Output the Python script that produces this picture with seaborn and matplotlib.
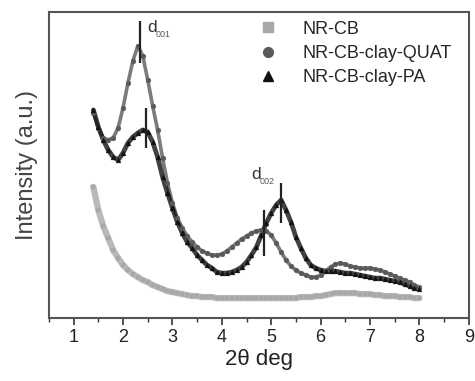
import numpy as np
import pandas as pd
import matplotlib
matplotlib.use("Agg")
import matplotlib.pyplot as plt
import seaborn as sns
from matplotlib.ticker import MultipleLocator
from matplotlib.lines import Line2D

# ---------------- data (arbitrary intensity units) ----------------
two_theta = [round(1.4 + 0.1 * i, 1) for i in range(67)]  # 1.4 ... 8.0

nr_cb = [131, 108, 92, 80, 68, 60, 53, 48, 44, 41,
         38, 36, 33, 31, 29, 27, 26, 25, 24, 23,
         22, 22, 21, 21, 21, 20, 20, 20, 20, 20,
         20, 20, 20, 20, 20, 20, 20, 20, 20, 20,
         20, 20, 21, 21, 21, 22, 22, 23, 24, 25,
         25, 25, 25, 25, 24, 24, 24, 23, 23, 22,
         22, 22, 21, 21, 21, 20, 20]

nr_cb_clay_quat = [205, 190, 180, 178, 180, 190, 210, 235, 257, 272,
                   262, 238, 212, 188, 160, 135, 115, 100, 90, 82,
                   76, 71, 67, 65, 63, 63, 64, 67, 71, 75,
                   79, 82, 85, 87, 88, 87, 83, 75, 66, 58,
                   52, 48, 45, 43, 41, 41, 43, 47, 51, 54,
                   55, 54, 52, 51, 50, 50, 50, 49, 48, 46,
                   44, 42, 40, 38, 36, 33, 31]

nr_cb_clay_pa = [208, 191, 178, 168, 161, 158, 165, 175, 181, 185,
                 188, 186, 176, 161, 141, 125, 110, 96, 85, 76,
                 70, 63, 58, 53, 50, 46, 45, 45, 46, 48,
                 51, 56, 63, 71, 83, 95, 105, 113, 118, 108,
                 96, 81, 70, 60, 53, 50, 48, 47, 47, 47,
                 46, 45, 45, 44, 43, 42, 41, 40, 40, 39,
                 38, 37, 36, 34, 32, 30, 29]

# noise spikes (vertical streaks) visible in the patterns
spike_x = [2.35, 2.47, 4.85, 5.2]
spike_lo = [255, 170, 62, 95]
spike_hi = [297, 210, 108, 135]

series_names = ["NR-CB", "NR-CB-clay-QUAT", "NR-CB-clay-PA"]
series_colors = ["#a8a8a8", "#5a5a5a", "#111111"]
series_markers = ["s", "o", "^"]

peak_labels = ["001", "002"]
peak_label_x = [2.5, 4.6]
peak_label_y = [283, 136]

x_ticks = [1, 2, 3, 4, 5, 6, 7, 8, 9]

# ---------------- build table ----------------
df = pd.concat([
    pd.DataFrame({"two_theta": two_theta, "intensity": vals, "sample": name})
    for name, vals in zip(series_names, [nr_cb, nr_cb_clay_quat, nr_cb_clay_pa])
], ignore_index=True)

sns.set_theme(style="white")
plt.rcParams["font.family"] = ["Liberation Sans", "DejaVu Sans"]

fig = plt.figure(figsize=(4.75, 3.81), dpi=100)
ax = fig.add_axes([0.103, 0.165, 0.884, 0.804])

line_widths = [4.5, 2.6, 3.4]
for name, col, mk, lw in zip(series_names, series_colors, series_markers, line_widths):
    sub = df[df["sample"] == name]
    sns.lineplot(data=sub, x="two_theta", y="intensity", ax=ax, color=col,
                 linewidth=lw, alpha=0.8, legend=False, zorder=2)
    sns.scatterplot(data=sub, x="two_theta", y="intensity", ax=ax, color=col,
                    marker=mk, s=12, edgecolor=col, linewidth=0.3, legend=False, zorder=3)

ax.vlines(spike_x, spike_lo, spike_hi, colors="#222222", linewidth=1.6, zorder=4)

for lab, lx, ly in zip(peak_labels, peak_label_x, peak_label_y):
    ax.text(lx, ly, "d", fontsize=12.5, color="#333333", ha="left", va="bottom")
    ax.text(lx + 0.16, ly - 4, lab, fontsize=6.5, color="#555555", ha="left", va="bottom")

ax.set_xlim(0.5, 9)
ax.set_ylim(0, 306)
ax.set_xticks(x_ticks)
ax.xaxis.set_minor_locator(MultipleLocator(0.5))
ax.set_yticks([])
ax.tick_params(axis="x", which="major", direction="out", length=5, width=1.2,
               colors="#333333", labelsize=13, bottom=True, pad=3)
ax.tick_params(axis="x", which="minor", direction="out", length=3, width=1.0,
               colors="#333333", bottom=True)
for lab in ax.get_xticklabels():
    lab.set_color("#222222")
for sp in ax.spines.values():
    sp.set_color("#555555")
    sp.set_linewidth(1.5)

ax.set_xlabel("2θ deg", fontsize=16, color="#222222", labelpad=2)
ax.set_ylabel("Intensity (a.u.)", fontsize=17, color="#444444", labelpad=8)

handles = [Line2D([], [], linestyle="none", marker=mk, color=col, markersize=7)
           for col, mk in zip(series_colors, series_markers)]
ax.legend(handles, series_names, loc="upper right", bbox_to_anchor=(0.99, 1.012),
          frameon=False, fontsize=13, handletextpad=0.9, labelspacing=0.4,
          borderaxespad=0.3)

fig.savefig("out.png", dpi=100)
